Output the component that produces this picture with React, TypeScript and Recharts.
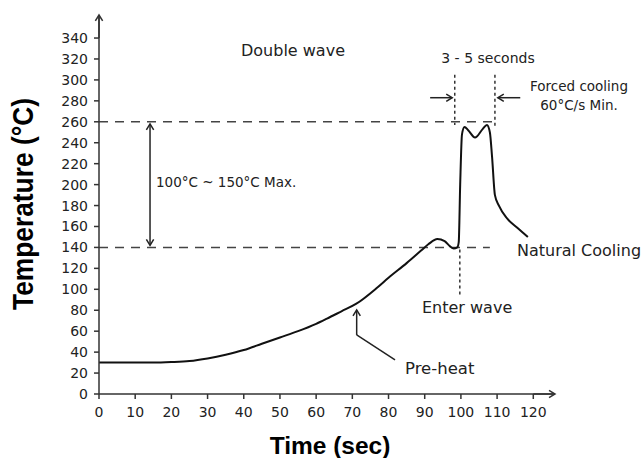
import { LineChart, Line, XAxis, YAxis, ReferenceLine } from "recharts";

// wave soldering profile
const times = [
  0, 10, 15, 20, 25, 30, 35, 40, 45, 50, 55, 60, 63, 67, 71, 77, 80, 85, 89, 91, 93.5, 95.5, 97, 98, 99,
  99.4, 99.8, 100.3, 101, 102, 103.9, 106, 107.2, 108, 108.6, 109.4, 110.5, 112.7, 115.5, 118.5,
];
const temps = [
  30, 30, 30, 30.5, 31.5, 34, 37.5, 42, 48, 54, 60, 67, 72, 79, 86, 102, 111, 125, 137, 143, 148, 146, 141, 139, 140,
  145, 200, 248, 255, 252, 245, 253, 257, 250, 227, 190, 180, 168, 159, 150,
];
const xTicks = [0, 10, 20, 30, 40, 50, 60, 70, 80, 90, 100, 110, 120];
const yTicks = [0, 20, 40, 60, 80, 100, 120, 140, 160, 180, 200, 220, 240, 260, 280, 300, 320, 340];

const data = times.map((t, i) => ({ time: t, temp: temps[i] }));

const ink = "#222";
const font = "DejaVu Sans, Verdana, sans-serif";
const boldFont = "Liberation Sans, Arial, sans-serif";

function chevron(x1: number, y1: number, x2: number, y2: number, size = 7) {
  const a = Math.atan2(y2 - y1, x2 - x1);
  const s = 0.55;
  const ax = x2 - size * Math.cos(a - s);
  const ay = y2 - size * Math.sin(a - s);
  const bx = x2 - size * Math.cos(a + s);
  const by = y2 - size * Math.sin(a + s);
  return `M${ax},${ay} L${x2},${y2} L${bx},${by}`;
}

// custom shape for reference segments: line plus open arrow heads
const arrowShape =
  (ends: "none" | "end" | "both", dash?: string, color = ink, width = 1.5) =>
  (props: any) => {
    const { x1, y1, x2, y2 } = props;
    if (x1 == null || y1 == null) return <g />;
    return (
      <g>
        <line x1={x1} y1={y1} x2={x2} y2={y2} stroke={color} strokeWidth={width} strokeDasharray={dash} />
        {ends !== "none" && <path d={chevron(x1, y1, x2, y2)} fill="none" stroke={color} strokeWidth={1.5} />}
        {ends === "both" && <path d={chevron(x2, y2, x1, y1)} fill="none" stroke={color} strokeWidth={1.5} />}
      </g>
    );
  };

export default function App() {
  const txt = { fontFamily: font, fill: ink };
  return (
    <div style={{ position: "absolute", left: 0, top: 0, width: 644, height: 458, background: "#fff" }}>
      <LineChart width={644} height={458} data={data} margin={{ top: 15, right: 89, left: 0, bottom: 0 }}>
        <XAxis
          dataKey="time"
          type="number"
          domain={[0, 126]}
          ticks={xTicks}
          interval={0}
          height={64}
          tickSize={5}
          tickMargin={8}
          axisLine={{ stroke: "#333", strokeWidth: 1.5 }}
          tickLine={{ stroke: "#333", strokeWidth: 1.5 }}
          tick={{ fontFamily: font, fontSize: 14, fill: ink }}
        />
        <YAxis
          type="number"
          domain={[0, 362]}
          ticks={yTicks}
          interval={0}
          width={99}
          tickSize={5}
          tickMargin={6}
          axisLine={{ stroke: "#333", strokeWidth: 1.5 }}
          tickLine={{ stroke: "#333", strokeWidth: 1.5 }}
          tick={{ fontFamily: font, fontSize: 14, fill: ink }}
        />

        {/* axis arrow heads */}
        <ReferenceLine segment={[{ x: 120, y: 0 }, { x: 126, y: 0 }]} shape={arrowShape("end", undefined, "#333")} />
        <ReferenceLine segment={[{ x: 0, y: 340 }, { x: 0, y: 362 }]} shape={arrowShape("end", undefined, "#333")} />

        {/* limits */}
        <ReferenceLine segment={[{ x: 0, y: 260 }, { x: 109, y: 260 }]} shape={arrowShape("none", "9 7", "#444")} />
        <ReferenceLine segment={[{ x: 0, y: 140 }, { x: 108, y: 140 }]} shape={arrowShape("none", "9 7", "#444")} />
        <ReferenceLine segment={[{ x: 14.1, y: 142 }, { x: 14.1, y: 258 }]} shape={arrowShape("both")} />

        {/* 3 - 5 seconds window */}
        <ReferenceLine segment={[{ x: 98.3, y: 305 }, { x: 98.3, y: 257 }]} shape={arrowShape("none", "3 3", "#333")} />
        <ReferenceLine segment={[{ x: 109.4, y: 305 }, { x: 109.4, y: 255 }]} shape={arrowShape("none", "3 3", "#333")} />
        <ReferenceLine segment={[{ x: 91.5, y: 283 }, { x: 97.6, y: 283 }]} shape={arrowShape("end")} />
        <ReferenceLine segment={[{ x: 116.4, y: 283 }, { x: 110.2, y: 283 }]} shape={arrowShape("end")} />

        {/* enter wave */}
        <ReferenceLine segment={[{ x: 99.7, y: 138 }, { x: 99.7, y: 93 }]} shape={arrowShape("none", "3 3", "#333")} />

        {/* pre-heat pointer */}
        <ReferenceLine segment={[{ x: 81.8, y: 32.5 }, { x: 71.2, y: 56.4 }]} shape={arrowShape("none")} />
        <ReferenceLine segment={[{ x: 71.2, y: 56.4 }, { x: 71.2, y: 80.3 }]} shape={arrowShape("end")} />

        <Line
          type="monotone"
          dataKey="temp"
          stroke="#111"
          strokeWidth={2}
          dot={false}
          activeDot={false}
          isAnimationActive={false}
        />
      </LineChart>

      <svg width={644} height={458} style={{ position: "absolute", left: 0, top: 0, pointerEvents: "none" }}>
        <text x={293} y={56} textAnchor="middle" fontSize={16} {...txt}>Double wave</text>
        <text x={488} y={63} textAnchor="middle" fontSize={14} {...txt}>3 - 5 seconds</text>
        <text x={579} y={91} textAnchor="middle" fontSize={13.5} {...txt}>Forced cooling</text>
        <text x={579} y={110} textAnchor="middle" fontSize={13.5} {...txt}>60°C/s Min.</text>
        <text x={156} y={187} fontSize={13.5} {...txt}>100°C ~ 150°C Max.</text>
        <text x={517} y={256} fontSize={16} {...txt}>Natural Cooling</text>
        <text x={422} y={313} fontSize={16} {...txt}>Enter wave</text>
        <text x={405} y={374} fontSize={16.5} {...txt}>Pre-heat</text>
        <text x={330} y={454} textAnchor="middle" fontSize={24.5} fontWeight={700} fontFamily={boldFont} fill="#000">
          Time (sec)
        </text>
        <text
          x={0}
          y={0}
          transform="translate(33,204) rotate(-90)"
          textAnchor="middle"
          fontSize={29}
          fontWeight={700}
          fontFamily={boldFont}
          fill="#000"
          textLength={212}
          lengthAdjust="spacingAndGlyphs"
        >
          Temperature (°C)
        </text>
      </svg>
    </div>
  );
}
